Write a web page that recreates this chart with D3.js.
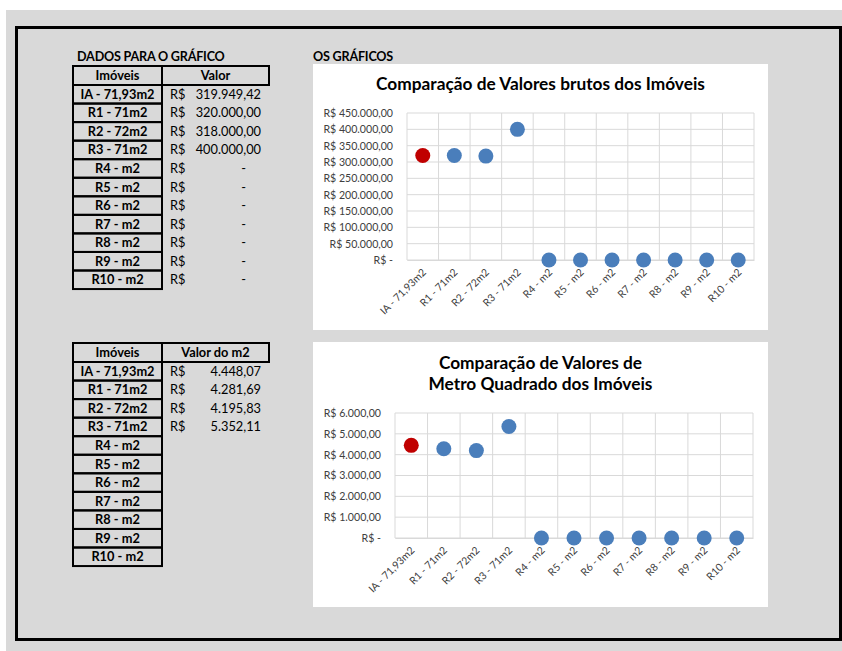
<!DOCTYPE html>
<html>
<head>
<meta charset="utf-8">
<script src="https://cdn.jsdelivr.net/npm/d3@7"></script>
<style>
  body { margin: 0; background: #fff; }
  text { font-family: Lato, "Open Sans", sans-serif; }
</style>
</head>
<body>
<div id="chart"></div>
<script>
const imoveis = ["IA - 71,93m2", "R1 - 71m2", "R2 - 72m2", "R3 - 71m2", "R4 - m2", "R5 - m2",
                 "R6 - m2", "R7 - m2", "R8 - m2", "R9 - m2", "R10 - m2"];
const valores = [319949.42, 320000, 318000, 400000, 0, 0, 0, 0, 0, 0, 0];
const valoresM2 = [4448.07, 4281.69, 4195.83, 5352.11, null, null, null, null, null, null, null];
const ticksValor = [0, 50000, 100000, 150000, 200000, 250000, 300000, 350000, 400000, 450000];
const ticksM2 = [0, 1000, 2000, 3000, 4000, 5000, 6000];
const titulo1 = ["Comparação de Valores brutos dos Imóveis"];
const titulo2 = ["Comparação de Valores de", "Metro Quadrado dos Imóveis"];

const br = d3.formatLocale({ decimal: ",", thousands: ".", grouping: [3], currency: ["R$ ", ""] });
const fmt = br.format(",.2f");
const moeda = v => v === 0 ? "R$ -" : "R$ " + fmt(v);

const W = 842, H = 651;
const svg = d3.select("#chart").append("svg")
    .attr("width", W)
    .attr("height", H);

// fundo cinza e moldura
svg.append("rect").attr("x", 6).attr("y", 10).attr("width", W - 6).attr("height", H - 10).attr("fill", "#d9d9d9");
svg.append("rect").attr("x", 16.5).attr("y", 27.5).attr("width", 824).attr("height", 612)
    .attr("fill", "none").attr("stroke", "#000").attr("stroke-width", 3);

svg.append("text").attr("x", 77).attr("y", 61).attr("font-size", 12.6).attr("font-weight", "bold")
    .attr("letter-spacing", -0.2).text("DADOS PARA O GRÁFICO");
svg.append("text").attr("x", 313).attr("y", 61).attr("font-size", 12.6).attr("font-weight", "bold")
    .attr("letter-spacing", -0.2).text("OS GRÁFICOS");

// tabelas
function tabela(top, header2, vals) {
    const g = svg.append("g");
    const x0 = 73, x1 = 162, x2 = 269, rowH = 18.55, headH = 19;
    g.append("rect").attr("x", x0).attr("y", top).attr("width", x1 - x0).attr("height", headH)
        .attr("fill", "none").attr("stroke", "#000").attr("stroke-width", 2);
    g.append("rect").attr("x", x1).attr("y", top).attr("width", x2 - x1).attr("height", headH)
        .attr("fill", "none").attr("stroke", "#000").attr("stroke-width", 2);
    g.append("text").attr("x", (x0 + x1) / 2).attr("y", top + headH / 2 + 4.5)
        .attr("text-anchor", "middle").attr("font-size", 12.8).attr("font-weight", "bold").text("Imóveis");
    g.append("text").attr("x", (x1 + x2) / 2).attr("y", top + headH / 2 + 4.5)
        .attr("text-anchor", "middle").attr("font-size", 12.8).attr("font-weight", "bold").text(header2);

    const rows = g.selectAll(".row").data(imoveis).enter().append("g")
        .attr("transform", (d, i) => `translate(0,${top + headH + i * rowH})`);
    rows.append("rect").attr("x", x0).attr("width", x1 - x0).attr("height", rowH)
        .attr("fill", "none").attr("stroke", "#000").attr("stroke-width", 2);
    rows.append("text").attr("x", (x0 + x1) / 2).attr("y", rowH / 2 + 4.5)
        .attr("text-anchor", "middle").attr("font-size", 12.8).attr("font-weight", "bold").text(d => d);
    rows.filter((d, i) => vals[i] != null).append("text").attr("x", 170).attr("y", rowH / 2 + 4.5)
        .attr("font-size", 12.8).text("R$");
    rows.filter((d, i) => vals[i] != null).append("text")
        .attr("x", d => vals[imoveis.indexOf(d)] === 0 ? 246 : 261)
        .attr("y", rowH / 2 + 4.5)
        .attr("text-anchor", "end").attr("font-size", 12.8)
        .text(d => { const v = vals[imoveis.indexOf(d)]; return v === 0 ? "-" : fmt(v); });
}
tabela(66, "Valor", valores);
tabela(343, "Valor do m2", valoresM2);

// graficos
function grafico(o) {
    svg.append("rect").attr("x", o.box[0]).attr("y", o.box[1]).attr("width", o.box[2]).attr("height", o.box[3])
        .attr("fill", "#fff");
    const g = svg.append("g");
    const x = d3.scaleBand().domain(imoveis).range([o.left, o.right]);
    const y = d3.scaleLinear().domain([0, d3.max(o.ticks)]).range([o.bottom, o.top]);

    // linhas de grade horizontais
    g.append("g").selectAll("line").data(o.ticks).enter().append("line")
        .attr("x1", o.left).attr("x2", o.right)
        .attr("y1", d => y(d)).attr("y2", d => y(d))
        .attr("stroke", "#d9d9d9").attr("stroke-width", 1);
    // linhas de grade verticais
    g.append("g").selectAll("line").data(imoveis.concat([null])).enter().append("line")
        .attr("x1", d => d === null ? o.right : x(d)).attr("x2", d => d === null ? o.right : x(d))
        .attr("y1", o.top).attr("y2", o.bottom)
        .attr("stroke", "#d9d9d9").attr("stroke-width", 1);

    const ay = g.append("g").attr("transform", `translate(${o.left},0)`)
        .call(d3.axisLeft(y).tickValues(o.ticks).tickSize(0).tickPadding(14).tickFormat(moeda));
    ay.select(".domain").remove();
    ay.selectAll("text").attr("font-family", "Lato, sans-serif").attr("font-size", 10.6).attr("fill", "#404040");

    const ax = g.append("g").attr("transform", `translate(0,${o.bottom})`)
        .call(d3.axisBottom(x).tickSize(0));
    ax.select(".domain").attr("stroke", "#d9d9d9");
    ax.selectAll("text")
        .attr("font-family", "Lato, sans-serif").attr("font-size", 10.4).attr("fill", "#404040")
        .attr("text-anchor", "end").attr("y", 0).attr("dy", 0).attr("x", 0)
        .attr("transform", "translate(4,13) rotate(-45)");

    // titulo
    o.titulo.forEach((t, i) => {
        svg.append("text").attr("x", o.box[0] + o.box[2] / 2).attr("y", o.tituloY + i * 21)
            .attr("text-anchor", "middle").attr("font-size", 17.3).attr("font-weight", "bold").text(t);
    });

    // pontos
    g.append("g").selectAll("circle").data(o.valores).enter().append("circle")
        .attr("cx", (d, i) => x(imoveis[i]) + x.bandwidth() / 2)
        .attr("cy", d => y(d ?? 0))
        .attr("r", 7.5)
        .attr("fill", (d, i) => i === 0 ? "#c00000" : "#4a7ebb");
}

grafico({ box: [313, 64, 455, 266], left: 407, right: 754, top: 113, bottom: 260,
          ticks: ticksValor, valores: valores, titulo: titulo1, tituloY: 90 });
grafico({ box: [313, 342, 455, 265], left: 395, right: 753, top: 413, bottom: 538,
          ticks: ticksM2, valores: valoresM2, titulo: titulo2, tituloY: 369 });
</script>
</body>
</html>
